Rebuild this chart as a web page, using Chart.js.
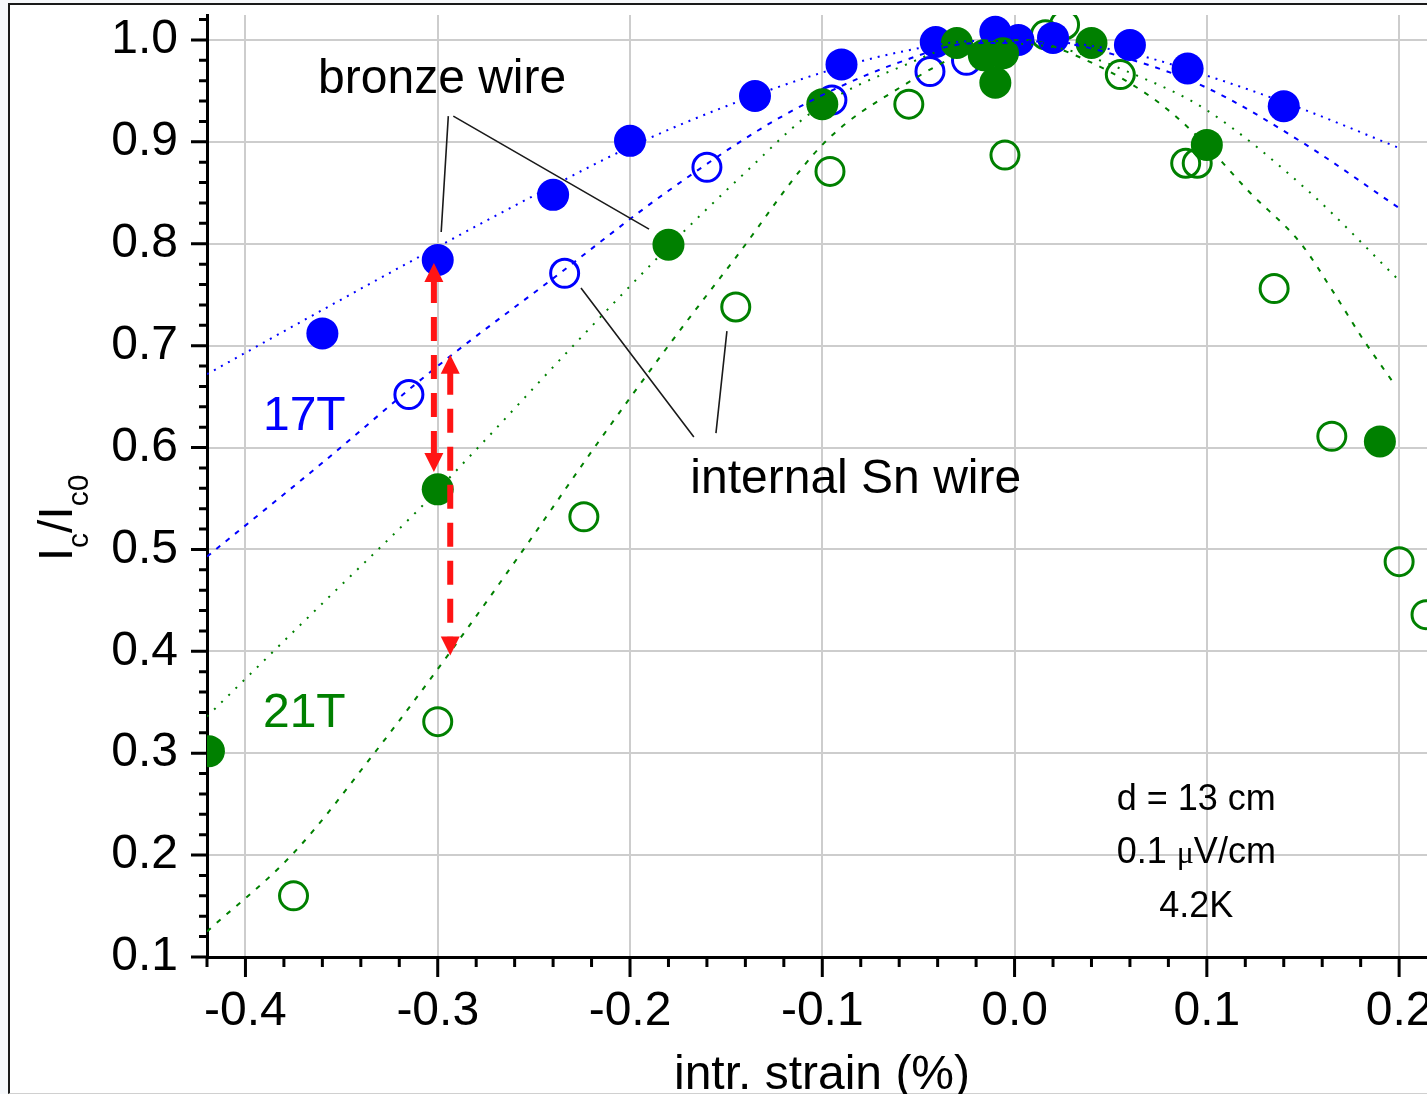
<!DOCTYPE html>
<html>
<head>
<meta charset="utf-8">
<title>Ic/Ic0 vs intrinsic strain</title>
<script src="https://cdn.jsdelivr.net/npm/chart.js@4.4.1/dist/chart.umd.min.js"></script>
<style>
  html, body { margin: 0; padding: 0; overflow: hidden; background: #f6f8fb; }
  #frame {
    position: absolute; left: 8px; top: 3px; width: 2000px; height: 1088px; background: #fff;
    border-left: 2px solid #1a1a1a; border-top: 2px solid #1a1a1a; border-bottom: 1px solid #d0d0d0;
  }
  #chart { position: absolute; left: -60px; top: -60px; }
</style>
</head>
<body>
<div id="frame"></div>
<canvas id="chart" width="1560" height="1214" style="width:1560px;height:1214px"></canvas>
<script>
// values: intrinsic strain (%) and Ic/Ic0

// 17 T, bronze wire (filled blue)
const bronze17Strain = [-0.360, -0.300, -0.240, -0.200, -0.135, -0.090, -0.041, -0.010, 0.002, 0.020, 0.060, 0.090, 0.140];
const bronze17Ic     = [ 0.712,  0.784,  0.848,  0.901,  0.945,  0.976,  0.998,  1.008, 1.000, 1.002, 0.995, 0.972, 0.935];

// 17 T, internal Sn wire (open blue)
const sn17Strain = [-0.315, -0.234, -0.160, -0.095, -0.044, -0.025];
const sn17Ic     = [ 0.652,  0.771,  0.875,  0.941,  0.969,  0.980];

// 21 T, bronze wire (filled green)
const bronze21Strain = [-0.419, -0.300, -0.180, -0.100, -0.030, -0.016, -0.006, -0.010, 0.040, 0.100, 0.190];
const bronze21Ic     = [ 0.302,  0.559,  0.799,  0.937,  0.997,  0.985,  0.987,  0.958, 0.997, 0.897, 0.606];

// 21 T, internal Sn wire (open green)
const sn21Strain = [-0.375, -0.300, -0.224, -0.145, -0.096, -0.055, -0.005, 0.016, 0.026, 0.055, 0.089, 0.095, 0.135, 0.165, 0.200, 0.214];
const sn21Ic     = [ 0.160,  0.331,  0.532,  0.738,  0.871,  0.937,  0.887, 1.005, 1.015, 0.966, 0.879, 0.879, 0.756, 0.611, 0.488, 0.436];

// fitted curves
const fitBronze17Strain = [-0.42, -0.36, -0.30, -0.24, -0.20, -0.15, -0.10, -0.06, -0.02, 0.02, 0.06, 0.10, 0.15, 0.20];
const fitBronze17Ic     = [0.672, 0.735, 0.797, 0.857, 0.895, 0.935, 0.968, 0.988, 0.999, 0.998, 0.987, 0.965, 0.932, 0.894];

const fitSn17Strain = [-0.42, -0.36, -0.30, -0.24, -0.18, -0.12, -0.06, -0.02, 0.02, 0.06, 0.10, 0.15, 0.20];
const fitSn17Ic     = [0.493, 0.585, 0.680, 0.766, 0.852, 0.926, 0.978, 0.997, 0.997, 0.981, 0.953, 0.899, 0.835];

const fitBronze21Strain = [-0.42, -0.36, -0.31, -0.277, -0.232, -0.18, -0.14, -0.104, -0.06, -0.02, 0.02, 0.065, 0.10, 0.152, 0.20];
const fitBronze21Ic     = [0.336, 0.447, 0.539, 0.604,  0.695,  0.797, 0.870, 0.931,  0.973, 0.997, 0.993, 0.964, 0.931, 0.853, 0.764];

const fitSn21Strain = [-0.42, -0.375, -0.333, -0.294, -0.255, -0.217, -0.18, -0.146, -0.099, -0.059, -0.02, 0.005, 0.029, 0.071, 0.097, 0.122, 0.149, 0.166, 0.181, 0.198];
const fitSn21Ic     = [0.125, 0.202,  0.300,  0.398,  0.501,  0.604,  0.700, 0.784,  0.899,  0.954,  0.992, 1.000, 0.987, 0.944, 0.902, 0.851, 0.800, 0.752, 0.707, 0.661];

// red double arrows (strain, start value, end value)
const arrowStrain = [-0.302, -0.2935];
const arrowFrom   = [0.781, 0.691];
const arrowTo     = [0.576, 0.396];

// axis ticks
const xMajorTicks = [-0.4, -0.3, -0.2, -0.1, 0.0, 0.1, 0.2];
const yMajorTicks = [0.1, 0.2, 0.3, 0.4, 0.5, 0.6, 0.7, 0.8, 0.9, 1.0];
const minorStep = 0.02;

const BLUE = '#0000ff';
const GREEN = '#008000';
const FONT = "'Liberation Sans', Arial, sans-serif";

function pts(xs, ys) {
  return xs.map((x, i) => ({ x: x, y: ys[i] }));
}

function fitLine(xs, ys, color, dash) {
  return {
    data: pts(xs, ys),
    showLine: true,
    borderColor: color,
    borderWidth: 2,
    borderDash: dash,
    pointRadius: 0,
    cubicInterpolationMode: 'monotone',
    fill: false
  };
}

function markers(xs, ys, color, filled) {
  return {
    data: pts(xs, ys),
    pointStyle: 'circle',
    pointRadius: filled ? 16 : 14,
    pointBorderWidth: filled ? 0 : 3,
    pointBackgroundColor: filled ? color : 'rgba(0,0,0,0)',
    pointBorderColor: color,
    clip: 0
  };
}

function drawArrowHead(ctx, x, y, dir) {
  // dir = -1 tip points up, +1 tip points down
  ctx.beginPath();
  ctx.moveTo(x, y);
  ctx.lineTo(x - 9.5, y - dir * 19);
  ctx.lineTo(x + 9.5, y - dir * 19);
  ctx.closePath();
  ctx.fill();
}

const decorations = {
  id: 'decorations',
  afterDraw(chart) {
    const { ctx, chartArea: a, scales: { x, y } } = chart;
    const X = v => x.getPixelForValue(v);
    const Y = v => y.getPixelForValue(v);
    ctx.save();

    // major and minor tick marks
    ctx.strokeStyle = '#000';
    ctx.lineWidth = 3;
    ctx.beginPath();
    for (let k = Math.round(x.min / minorStep); k * minorStep <= x.max + 1e-9; k++) {
      const p = X(k * minorStep);
      const len = k % 5 === 0 ? 20 : 10;
      ctx.moveTo(p, a.bottom);
      ctx.lineTo(p, a.bottom + len);
    }
    for (let k = Math.round(y.min / minorStep); k * minorStep <= y.max + 1e-9; k++) {
      const p = Y(k * minorStep);
      const len = k % 5 === 0 ? 16 : 8;
      ctx.moveTo(a.left, p);
      ctx.lineTo(a.left - len, p);
    }
    ctx.stroke();

    // red dashed double arrows
    ctx.fillStyle = '#ff1414';
    ctx.strokeStyle = '#ff1414';
    ctx.lineWidth = 6;
    arrowStrain.forEach((s, i) => {
      const px = X(s), top = Y(arrowFrom[i]), bot = Y(arrowTo[i]);
      ctx.setLineDash([24, 14]);
      ctx.beginPath();
      ctx.moveTo(px, top + 16);
      ctx.lineTo(px, bot - 16);
      ctx.stroke();
      ctx.setLineDash([]);
      drawArrowHead(ctx, px, top, -1);
      drawArrowHead(ctx, px, bot, 1);
    });

    // leader lines from the labels
    ctx.strokeStyle = '#1a1a1a';
    ctx.lineWidth = 1.6;
    const leaders = [
      [-0.2945, 0.9253, -0.2982, 0.8115],
      [-0.2919, 0.9253, -0.1901, 0.8144],
      [-0.1668, 0.6103, -0.2255, 0.7565],
      [-0.1553, 0.6142, -0.1496, 0.7143]
    ];
    ctx.beginPath();
    leaders.forEach(l => {
      ctx.moveTo(X(l[0]), Y(l[1]));
      ctx.lineTo(X(l[2]), Y(l[3]));
    });
    ctx.stroke();

    // text labels
    ctx.textAlign = 'center';
    ctx.textBaseline = 'alphabetic';
    ctx.font = '48px ' + FONT;
    ctx.fillStyle = '#000';
    ctx.fillText('bronze wire', X(-0.2977), Y(0.948));
    ctx.fillText('internal Sn wire', X(-0.0826), Y(0.555));
    ctx.fillStyle = BLUE;
    ctx.fillText('17T', X(-0.3694), Y(0.617));
    ctx.fillStyle = GREEN;
    ctx.fillText('21T', X(-0.3694), Y(0.326));

    ctx.fillStyle = '#000';
    ctx.font = '36px ' + FONT;
    ctx.fillText('d = 13 cm', X(0.0945), Y(0.244));
    ctx.fillText('4.2K', X(0.0945), Y(0.139));
    // 0.1 μV/cm with a serif mu
    const parts = [['0.1 ', '36px ' + FONT], ['\u03bc', '32px "Liberation Serif", serif'], ['V/cm', '36px ' + FONT]];
    let total = 0;
    parts.forEach(p => { ctx.font = p[1]; total += ctx.measureText(p[0]).width; });
    let cx = X(0.0945) - total / 2;
    ctx.textAlign = 'left';
    parts.forEach(p => {
      ctx.font = p[1];
      ctx.fillText(p[0], cx, Y(0.192));
      cx += ctx.measureText(p[0]).width;
    });

    // x axis title
    ctx.textAlign = 'center';
    ctx.font = '48px ' + FONT;
    ctx.fillText('intr. strain (%)', (a.left + a.right) / 2 + 5, a.bottom + 132);

    // y axis title I_c / I_c0, rotated
    const pieces = [['I', 48, 0], ['c', 30, 16], ['/I', 48, 0], ['c0', 30, 16]];
    ctx.translate(a.left - 135, (a.top + a.bottom) / 2 + 32);
    ctx.rotate(-Math.PI / 2);
    ctx.textAlign = 'left';
    let w = 0;
    pieces.forEach(p => { ctx.font = p[1] + 'px ' + FONT; w += ctx.measureText(p[0]).width; });
    let tx = -w / 2;
    pieces.forEach(p => {
      ctx.font = p[1] + 'px ' + FONT;
      ctx.fillText(p[0], tx, p[2]);
      tx += ctx.measureText(p[0]).width;
    });

    ctx.restore();
  }
};

new Chart(document.getElementById('chart'), {
  type: 'scatter',
  data: {
    datasets: [
      fitLine(fitBronze17Strain, fitBronze17Ic, BLUE, [2, 6]),
      fitLine(fitSn17Strain, fitSn17Ic, BLUE, [5, 7]),
      fitLine(fitBronze21Strain, fitBronze21Ic, GREEN, [2, 8]),
      fitLine(fitSn21Strain, fitSn21Ic, GREEN, [5, 8]),
      markers(bronze21Strain, bronze21Ic, GREEN, true),
      markers(bronze17Strain, bronze17Ic, BLUE, true),
      markers(sn21Strain, sn21Ic, GREEN, false),
      markers(sn17Strain, sn17Ic, BLUE, false)
    ]
  },
  options: {
    responsive: false,
    animation: false,
    devicePixelRatio: 1,
    layout: { padding: { left: 60, top: 75, right: 73, bottom: 60 } },
    plugins: {
      legend: { display: false },
      tooltip: { enabled: false }
    },
    scales: {
      x: {
        type: 'linear',
        min: -0.42,
        max: 0.2145,
        afterBuildTicks: s => { s.ticks = xMajorTicks.map(v => ({ value: v })); },
        afterFit: s => { s.height = 137; },
        grid: { color: '#cdcdcd', lineWidth: 2, drawTicks: false },
        border: { color: '#000', width: 3 },
        ticks: {
          color: '#000',
          padding: 26,
          maxRotation: 0,
          font: { family: FONT, size: 48 },
          callback: v => v.toFixed(1)
        }
      },
      y: {
        type: 'linear',
        min: 0.1,
        max: 1.0245,
        afterBuildTicks: s => { s.ticks = yMajorTicks.map(v => ({ value: v })); },
        afterFit: s => { s.width = 207; },
        grid: { color: '#cdcdcd', lineWidth: 2, drawTicks: false },
        border: { color: '#000', width: 3 },
        ticks: {
          color: '#000',
          padding: 29,
          font: { family: FONT, size: 48 },
          callback: v => v.toFixed(1)
        }
      }
    }
  },
  plugins: [decorations]
});
</script>
</body>
</html>
